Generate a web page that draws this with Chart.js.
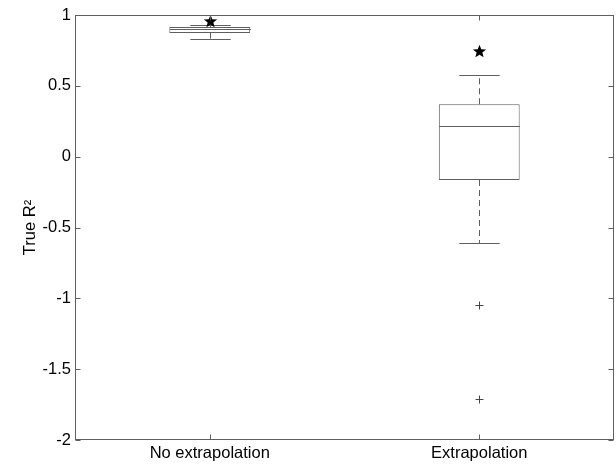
<!DOCTYPE html>
<html lang="en">
<head>
    <meta charset="UTF-8">
    <title>True R2 boxplot</title>
    <script src="https://cdn.jsdelivr.net/npm/chart.js"></script>
    <style>
        body { margin: 0; background: #fff; }
        #wrap { width: 616px; height: 465px; }
    </style>
</head>
<body>
    <div id="wrap"><canvas id="boxChart"></canvas></div>

    <script>
        // values
        const categories = ['No extrapolation', 'Extrapolation'];
        const q1 = [0.873, -0.165];
        const q3 = [0.915, 0.370];
        const medians = [0.899, 0.215];
        const whiskerLow = [0.833, -0.610];
        const whiskerHigh = [0.927, 0.577];
        const outliers = [[], [-1.047, -1.708]];
        const stars = [0.953, 0.741];
        const yTicks = [-2, -1.5, -1, -0.5, 0, 0.5, 1];

        const lineColor = '#5f5f5f';
        const font = { family: 'Liberation Sans, Arial, sans-serif', size: 16.5 };

        function drawStar(ctx, cx, cy, rOut, rIn) {
            ctx.beginPath();
            for (let i = 0; i < 10; i++) {
                const r = i % 2 === 0 ? rOut : rIn;
                const a = -Math.PI / 2 + i * Math.PI / 5;
                const px = cx + r * Math.cos(a);
                const py = cy + r * Math.sin(a);
                if (i === 0) ctx.moveTo(px, py); else ctx.lineTo(px, py);
            }
            ctx.closePath();
            ctx.fill();
        }

        const boxPlugin = {
            id: 'boxExtras',
            afterDatasetsDraw(chart) {
                const ctx = chart.ctx;
                const y = chart.scales.y;
                const meta = chart.getDatasetMeta(0);
                ctx.save();
                ctx.strokeStyle = lineColor;
                ctx.lineWidth = 1;
                meta.data.forEach((bar, i) => {
                    const cx = Math.round(bar.x) + 0.5;
                    const half = bar.width / 2;
                    const capHalf = half / 2;
                    // median
                    ctx.setLineDash([]);
                    ctx.beginPath();
                    const ym = Math.round(y.getPixelForValue(medians[i])) + 0.5;
                    ctx.moveTo(cx - half, ym);
                    ctx.lineTo(cx + half, ym);
                    ctx.stroke();
                    // whiskers
                    ctx.setLineDash([6, 4]);
                    ctx.beginPath();
                    ctx.moveTo(cx, y.getPixelForValue(q3[i]));
                    ctx.lineTo(cx, y.getPixelForValue(whiskerHigh[i]));
                    ctx.moveTo(cx, y.getPixelForValue(q1[i]));
                    ctx.lineTo(cx, y.getPixelForValue(whiskerLow[i]));
                    ctx.stroke();
                    // caps
                    ctx.setLineDash([]);
                    ctx.beginPath();
                    const yh = Math.round(y.getPixelForValue(whiskerHigh[i])) + 0.5;
                    const yl = Math.round(y.getPixelForValue(whiskerLow[i])) + 0.5;
                    ctx.moveTo(cx - capHalf, yh);
                    ctx.lineTo(cx + capHalf, yh);
                    ctx.moveTo(cx - capHalf, yl);
                    ctx.lineTo(cx + capHalf, yl);
                    ctx.stroke();
                    // outliers as + marks
                    ctx.strokeStyle = '#444';
                    ctx.beginPath();
                    outliers[i].forEach(v => {
                        const py = Math.round(y.getPixelForValue(v)) + 0.5;
                        ctx.moveTo(cx - 4, py); ctx.lineTo(cx + 4, py);
                        ctx.moveTo(cx, py - 4); ctx.lineTo(cx, py + 4);
                    });
                    ctx.stroke();
                    ctx.strokeStyle = lineColor;
                    // star marker
                    ctx.fillStyle = '#000';
                    drawStar(ctx, cx, y.getPixelForValue(stars[i]), 7, 3);
                });
                ctx.restore();
            },
            afterDraw(chart) {
                // matlab style frame with inward ticks
                const ctx = chart.ctx;
                const a = chart.chartArea;
                const x = chart.scales.x;
                const y = chart.scales.y;
                const L = Math.round(a.left) + 0.5, R = Math.round(a.right) - 0.5;
                const T = Math.round(a.top) + 0.5, B = Math.round(a.bottom) - 0.5;
                ctx.save();
                ctx.strokeStyle = lineColor;
                ctx.lineWidth = 1;
                ctx.strokeRect(L, T, R - L, B - T);
                ctx.beginPath();
                yTicks.forEach(v => {
                    const py = Math.round(y.getPixelForValue(v)) + 0.5;
                    ctx.moveTo(L, py); ctx.lineTo(L + 5, py);
                    ctx.moveTo(R, py); ctx.lineTo(R - 5, py);
                });
                categories.forEach((c, i) => {
                    const px = Math.round(x.getPixelForValue(i)) + 0.5;
                    ctx.moveTo(px, B); ctx.lineTo(px, B - 5);
                    ctx.moveTo(px, T); ctx.lineTo(px, T + 5);
                });
                ctx.stroke();
                ctx.restore();
            }
        };

        const ctx = document.getElementById('boxChart').getContext('2d');
        const chart = new Chart(ctx, {
            type: 'bar',
            data: {
                labels: categories,
                datasets: [{
                    label: 'box',
                    data: categories.map((c, i) => [q1[i], q3[i]]),
                    backgroundColor: '#ffffff',
                    borderColor: lineColor,
                    borderWidth: 1,
                    borderSkipped: false,
                    barPercentage: 0.3,
                    categoryPercentage: 1
                }]
            },
            options: {
                responsive: true,
                maintainAspectRatio: false,
                animation: false,
                layout: { padding: { top: 15, right: 2, left: 0, bottom: 0 } },
                plugins: {
                    legend: { display: false },
                    tooltip: { enabled: false }
                },
                scales: {
                    x: {
                        grid: { display: false, drawTicks: false },
                        border: { display: false },
                        ticks: { color: '#000', font: font, padding: 4 },
                        afterFit(scale) {
                            scale.height = 25;
                            scale.paddingLeft = 0;
                            scale.paddingRight = 0;
                        }
                    },
                    y: {
                        min: -2,
                        max: 1,
                        grid: { display: false, drawTicks: false },
                        border: { display: false },
                        ticks: {
                            color: '#000',
                            font: font,
                            padding: 4,
                            stepSize: 0.5,
                            callback: v => String(v)
                        },
                        title: {
                            display: true,
                            text: 'True R²',
                            color: '#000',
                            font: font,
                            padding: { top: 21, bottom: 0 }
                        },
                        afterFit(scale) {
                            scale.width = 75;
                            scale.paddingTop = 0;
                            scale.paddingBottom = 0;
                        }
                    }
                }
            },
            plugins: [boxPlugin]
        });
    </script>
</body>
</html>
